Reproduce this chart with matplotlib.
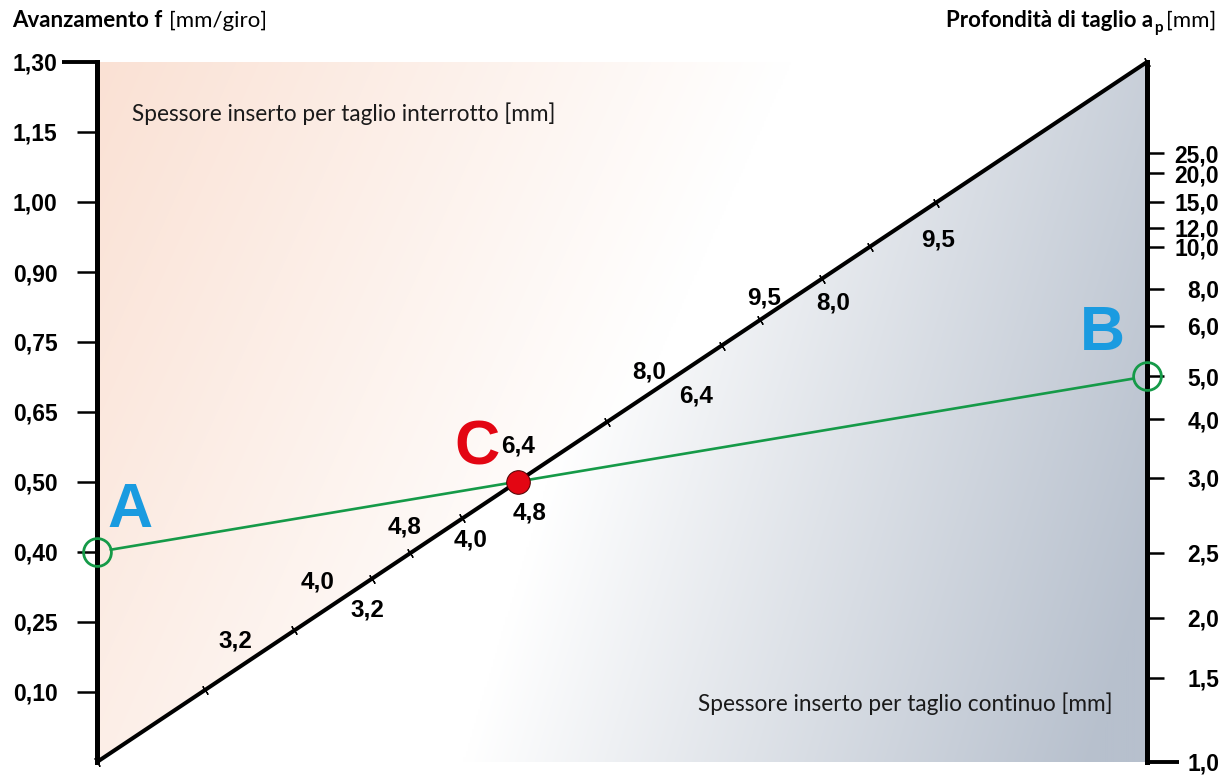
import numpy as np
import matplotlib.pyplot as plt
from matplotlib.colors import to_rgb

# ---- nomogram scales ----
# left scale: avanzamento f [mm/giro]
f_vals = [0.10, 0.25, 0.40, 0.50, 0.65, 0.75, 0.90, 1.00, 1.15, 1.30]
f_pos = [0.1, 0.2, 0.3, 0.4, 0.5, 0.6, 0.7, 0.8, 0.9, 1.0]

# right scale: profondita di taglio ap [mm]
ap_vals = [1.0, 1.5, 2.0, 2.5, 3.0, 4.0, 5.0, 6.0, 8.0, 10.0, 12.0, 15.0, 20.0, 25.0]
ap_pos = [0.0, 0.120, 0.206, 0.299, 0.406, 0.490, 0.551, 0.623, 0.676, 0.736,
          0.763, 0.800, 0.841, 0.870]

# diagonal scale (insert thickness), tick positions along the diagonal
diag_ticks = [0.0, 0.103, 0.188, 0.262, 0.298, 0.348, 0.486, 0.595, 0.631,
              0.690, 0.736, 0.799, 1.0]
thick_labels = ['3,2', '4,0', '4,8', '6,4', '8,0', '9,5']
# interrupted cut labels (above the diagonal), continuous cut labels (below)
interr_xy = [(0.132, 0.173), (0.210, 0.257), (0.293, 0.336), (0.401, 0.451),
             (0.526, 0.557), (0.635, 0.663)]
contin_xy = [(0.258, 0.217), (0.356, 0.317), (0.412, 0.356), (0.571, 0.523),
             (0.701, 0.656), (0.801, 0.746)]

# example reading
f_sel = 0.40
ap_sel = 5.0

W, H = 1231, 776
fig = plt.figure(figsize=(W / 100, H / 100), dpi=100)
rect = [97 / W, 14 / H, 1050 / W, 700 / H]

ax2 = fig.add_axes(rect)           # background + right scale
ax = fig.add_axes(rect, sharex=ax2)  # left scale + drawing
ax.set_zorder(2)
ax2.set_zorder(1)
ax.patch.set_visible(False)
for a in (ax, ax2):
    a.set_xlim(0, 1)
    a.set_ylim(0, 1)
    for s in a.spines.values():
        s.set_visible(False)
    a.set_xticks([])

# background: peach triangle above the diagonal, grey one below
peach = np.array(to_rgb('#fae1d4'))
grey = np.array(to_rgb('#b7c0cd'))
white = np.ones(3)
uu, vv = np.meshgrid(np.linspace(0, 1, 500), np.linspace(0, 1, 350))
upper = vv >= uu
wp = np.clip(1 - (uu + 0.3 * (1 - vv)) / 0.66, 0, 1) * upper
wg = np.clip((uu - 0.35 - 0.2 * vv) / 0.6, 0, 1) * (~upper)
img = (white[None, None, :]
       + (peach - white)[None, None, :] * wp[..., None]
       + (grey - white)[None, None, :] * wg[..., None])
ax2.imshow(img, extent=(0, 1, 0, 1), origin='lower', aspect='auto',
           interpolation='bilinear', zorder=0)

num_font = dict(family='Liberation Sans', fontweight='bold')

# left axis
ax.spines['left'].set_visible(True)
ax.spines['left'].set_linewidth(3.6)
ax.spines['left'].set_capstyle('projecting')
ax.set_yticks(f_pos)
ax.set_yticklabels([f"{v:.2f}".replace('.', ',') for v in f_vals],
                   fontsize=16.5, **num_font)
ax.tick_params(axis='y', direction='out', length=14.4, width=1.8, pad=14,
               color='black')
t_top = ax.yaxis.get_major_ticks()[-1]
t_top.tick1line.set_markersize(25)
t_top.tick1line.set_markeredgewidth(2.8)

# right axis
ax2.spines['right'].set_visible(True)
ax2.spines['right'].set_linewidth(3.6)
ax2.spines['right'].set_capstyle('projecting')
ax2.yaxis.tick_right()
ax2.set_yticks(ap_pos)
ax2.set_yticklabels([f"{v:.1f}".replace('.', ',') for v in ap_vals],
                    fontsize=16.5, **num_font)
ax2.tick_params(axis='y', direction='out', length=12.5, width=1.8, pad=39.5,
                color='black')
for t in ax2.yaxis.get_major_ticks():
    t.label2.set_horizontalalignment('right')
t_bot = ax2.yaxis.get_major_ticks()[0]
t_bot.tick2line.set_markersize(23)
t_bot.tick2line.set_markeredgewidth(2.8)

# diagonal scale
ax.plot([0, 1], [0, 1], color='black', lw=2.9, solid_capstyle='butt',
        clip_on=False, zorder=3)
ang = np.degrees(np.arctan2(700, 1050))
ax.plot(diag_ticks, diag_ticks, ls='none', marker=(2, 2, ang), ms=7,
        mew=0.9, color='black', clip_on=False, zorder=3)
for lab, (x, y) in zip(thick_labels, interr_xy):
    ax.text(x, y, lab, ha='center', va='center', fontsize=17.5, zorder=5,
            **num_font)
for lab, (x, y) in zip(thick_labels, contin_xy):
    ax.text(x, y, lab, ha='center', va='center', fontsize=17.5, zorder=5,
            **num_font)

# reading line A-B and intersection C
ya = np.interp(f_sel, f_vals, f_pos)
yb = np.interp(ap_sel, ap_vals, ap_pos)
xc = ya / (1 - (yb - ya))
yc = xc
green = '#159a48'
ax.annotate('', xy=(1, yb), xytext=(0, ya), annotation_clip=False, zorder=4,
            arrowprops=dict(arrowstyle='-', color=green, lw=1.9,
                            shrinkA=10, shrinkB=10))
ax.plot([0, 1], [ya, yb], ls='none', marker='o', ms=20, mfc='none',
        mec=green, mew=2.0, clip_on=False, zorder=6)
ax.plot([xc], [yc], ls='none', marker='o', ms=17, mfc='#e30613',
        mec='#4a0000', mew=0.7, clip_on=False, zorder=7)

letter = dict(family='Liberation Sans', fontweight='bold', fontsize=45,
              ha='center', va='center')
ax.annotate('A', (0, ya), xytext=(24, 30), textcoords='offset points',
            color='#1a9be0', **letter)
ax.annotate('B', (1, yb), xytext=(-32, 31), textcoords='offset points',
            color='#1a9be0', **letter)
ax.annotate('C', (xc, yc), xytext=(-29, 24), textcoords='offset points',
            color='#e30613', **letter)

# region captions
txt = dict(family='Lato', fontsize=16.3, color='#1a1a1a')
ax.text(0.033, 0.916, 'Spessore inserto per taglio interrotto [mm]',
        ha='left', va='baseline', zorder=5, **txt)
ax.text(0.967, 0.073, 'Spessore inserto per taglio continuo [mm]',
        ha='right', va='baseline', zorder=5, **txt)

# header labels
fig.canvas.draw()
r = fig.canvas.get_renderer()
hy = 1 - 27 / H
hdr = dict(family='Lato', fontsize=16, color='black', va='baseline')
t1 = fig.text(12 / W, hy, 'Avanzamento f', fontweight='bold', ha='left', **hdr)
bb = t1.get_window_extent(r)
fig.text((bb.x1 + 7) / W, hy, '[mm/giro]', ha='left', **hdr)

t3 = fig.text(1216 / W, hy, '[mm]', ha='right', **hdr)
bb = t3.get_window_extent(r)
t4 = fig.text((bb.x0 - 3) / W, hy - 5 / H, 'p', fontweight='bold', ha='right',
              family='Lato', fontsize=11, va='baseline')
bb = t4.get_window_extent(r)
fig.text((bb.x0 - 1) / W, hy, 'Profondità di taglio a', fontweight='bold',
         ha='right', **hdr)

fig.savefig('out.png', dpi=100)
